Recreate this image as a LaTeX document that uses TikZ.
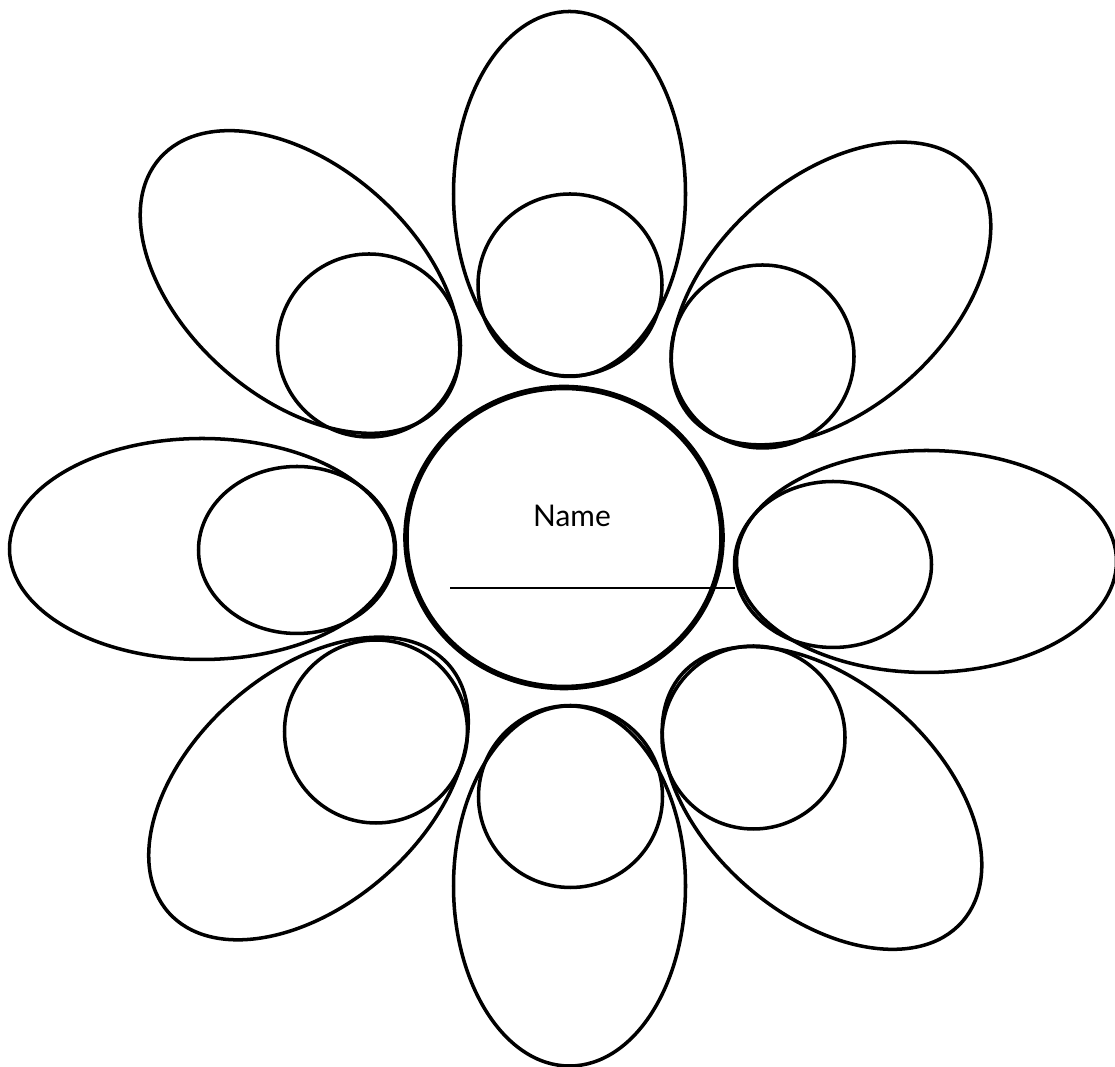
\documentclass[tikz,border=0pt]{standalone}
\usepackage{fontspec}
\setmainfont{Lato}
\usepackage{tikz}

\tikzset{
  petal/.style={line width=2pt},
  bud/.style={line width=2pt},
  heart/.style={line width=3.2pt},
}

\begin{document}
\begin{tikzpicture}[x=0.02cm,y=0.02cm]
  \clip (0,0) rectangle (1115,1067);
  \useasboundingbox (0,0) rectangle (1115,1067);
  % centre of the flower
  \draw[heart] (564,529.5) ellipse [x radius=158, y radius=150];
  \node[anchor=base,font=\fontsize{17}{20}\selectfont] (name) at (572,540) {Name};
  \coordinate (lineL) at (450,479);
  \coordinate (lineR) at (735,479);
  \draw[line width=0.6pt] (lineL) -- (lineR);
  % straight petals
  \draw[petal] (569.5,873) ellipse [x radius=116, y radius=182.5];
  \draw[bud] (570,782) ellipse [x radius=92, y radius=91];
  \draw[petal] (569.5,181) ellipse [x radius=116, y radius=180];
  \draw[bud] (570.5,270.5) ellipse [x radius=92, y radius=91];
  \draw[petal] (202,518) ellipse [x radius=192.5, y radius=110.5];
  \draw[bud] (297,517) ellipse [x radius=98.5, y radius=83.5];
  \draw[petal] (926.5,505.5) ellipse [x radius=190, y radius=111];
  \draw[bud] (833,502.5) ellipse [x radius=98.5, y radius=83];
  % slanted petals
  \draw[petal,rotate around={-41.5:(300,785)}] (300,785) ellipse [x radius=187, y radius=116];
  \draw[bud] (369,721.5) circle [radius=91.5];
  \draw[petal,rotate around={41.5:(831,773.5)}] (831,773.5) ellipse [x radius=187, y radius=116];
  \draw[bud] (762.5,710.5) circle [radius=91.5];
  \draw[petal,rotate around={41.5:(308.5,278.5)}] (308.5,278.5) ellipse [x radius=187, y radius=116];
  \draw[bud] (376,335.5) circle [radius=91.5];
  \draw[petal,rotate around={-41.5:(822,269)}] (822,269) ellipse [x radius=187, y radius=116];
  \draw[bud] (753.5,329.5) circle [radius=91.5];
\end{tikzpicture}
\end{document}
